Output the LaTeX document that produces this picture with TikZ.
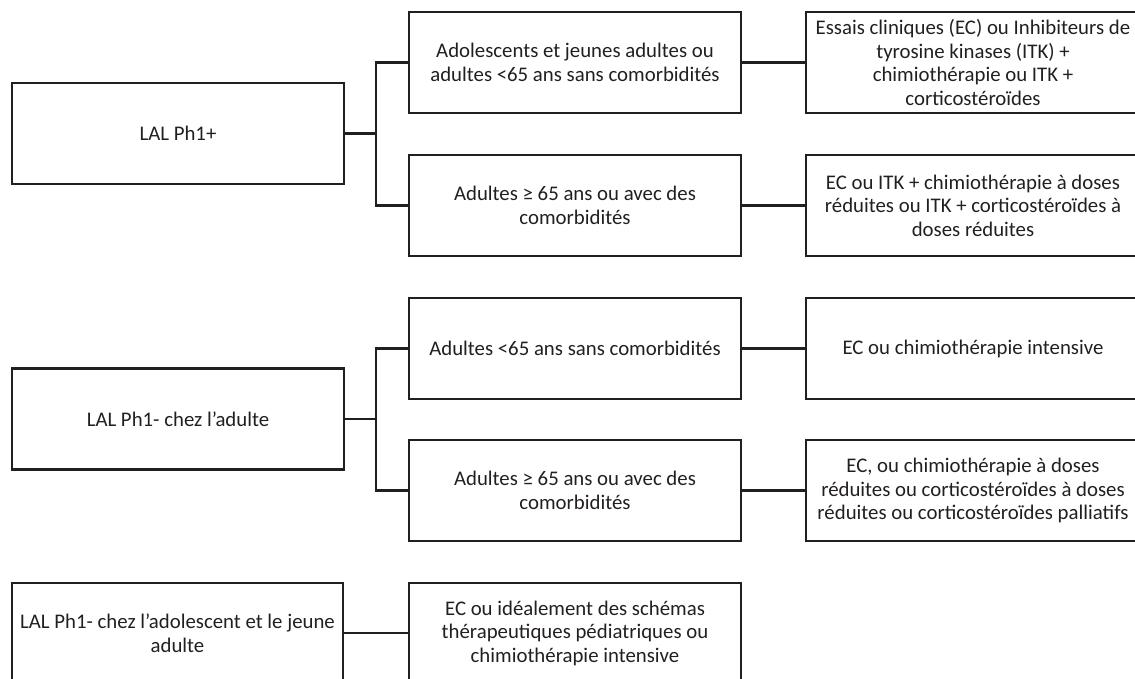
\documentclass[tikz,border=0pt]{standalone}
\usepackage{fontspec}
\setmainfont{Carlito}
\definecolor{ink}{HTML}{231F20}
\begin{document}
\begin{tikzpicture}[x=1pt,y=-1pt,
  box/.style={draw=ink, line width=2.6pt, text=ink, align=center, inner sep=0pt,
    minimum height=101pt, font=\fontsize{20.8}{23.5}\selectfont},
  lbox/.style={box, minimum width=332pt},
  mbox/.style={box, minimum width=332pt},
  rbox/.style={box, minimum width=334pt},
  link/.style={draw=ink, line width=2.6pt}]
\useasboundingbox (0,0) rectangle (1135,679);
\clip (0,0) rectangle (1135,679);
% group 1
\node[lbox] (p1) at (178,133.5) {LAL Ph1+};
\node[mbox] (a1) at (575,62.5) {Adolescents et jeunes adultes ou\\adultes <65 ans sans comorbidités};
\node[mbox] (a2) at (575,205.5) {Adultes ≥ 65 ans ou avec des\\comorbidités};
\node[rbox] (r1) at (973,62.5) {Essais cliniques (EC) ou Inhibiteurs de\\tyrosine kinases (ITK) +\\chimiothérapie ou ITK +\\corticostéroïdes};
\node[rbox] (r2) at (973,205.5) {EC ou ITK + chimiothérapie à doses\\réduites ou ITK + corticostéroïdes à\\doses réduites};
\coordinate (bus1) at (376,133.5);
\draw[link] (p1.east) -- (bus1);
\draw[link] (a1.west) -| (bus1) |- (a2.west);
\draw[link] (a1.east) -- (r1.west);
\draw[link] (a2.east) -- (r2.west);
% group 2
\node[lbox] (p2) at (178,419) {LAL Ph1- chez l’adulte};
\node[mbox] (b1) at (575,348.5) {Adultes <65 ans sans comorbidités};
\node[mbox] (b2) at (575,490.5) {Adultes ≥ 65 ans ou avec des\\comorbidités};
\node[rbox] (s1) at (973,348.5) {EC ou chimiothérapie intensive};
\node[rbox] (s2) at (973,490.5) {EC, ou chimiothérapie à doses\\réduites ou corticostéroïdes à doses\\réduites ou corticostéroïdes palliatifs};
\coordinate (bus2) at (376,419);
\draw[link] (p2.east) -- (bus2);
\draw[link] (b1.west) -| (bus2) |- (b2.west);
\draw[link] (b1.east) -- (s1.west);
\draw[link] (b2.east) -- (s2.west);
% group 3
\node[box, minimum width=331pt, minimum height=100pt] (p3) at (177.5,633) {LAL Ph1- chez l’adolescent et le jeune\\adulte};
\node[mbox, minimum height=100pt] (c1) at (575,633) {EC ou idéalement des schémas\\thérapeutiques pédiatriques ou\\chimiothérapie intensive};
\draw[link] (p3.east) -- (c1.west);
\end{tikzpicture}
\end{document}
